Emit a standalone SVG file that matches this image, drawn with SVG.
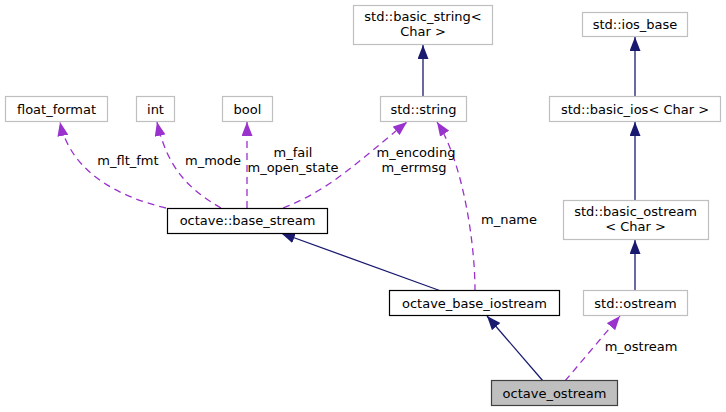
<svg xmlns="http://www.w3.org/2000/svg" width="726" height="412" viewBox="0 0 726 412">
<style>
text{font-family:"DejaVu Sans","Liberation Sans",sans-serif;font-size:13px;fill:#000;text-anchor:middle}
.ext{fill:#fff;stroke:#bfbfbf;stroke-width:1.2}
.doc{fill:#fff;stroke:#000;stroke-width:1.2}
.cur{fill:#bfbfbf;stroke:#404040;stroke-width:1.2}
.inh{fill:none;stroke:#191970;stroke-width:1.3;marker-end:url(#ab)}
.use{fill:none;stroke:#9a32cd;stroke-width:1.3;stroke-dasharray:7,5;marker-end:url(#ap)}
</style>
<defs>
<marker id="ab" viewBox="0 0 14 11" refX="14" refY="5.5" markerWidth="14" markerHeight="11" markerUnits="userSpaceOnUse" orient="auto"><path d="M0,0 L14,5.5 L0,11 z" fill="#191970"/></marker>
<marker id="ap" viewBox="0 0 14 11" refX="14" refY="5.5" markerWidth="14" markerHeight="11" markerUnits="userSpaceOnUse" orient="auto"><path d="M0,0 L14,5.5 L0,11 z" fill="#9a32cd"/></marker>
</defs>
<rect width="726" height="412" fill="#fff"/>
<g id="connectors">
<path class="inh" d="M423,97 L423,45"/>
<path class="inh" d="M635,97 L635,37"/>
<path class="inh" d="M635,200 L635,122"/>
<path class="inh" d="M635,291 L635,240"/>
<path class="inh" d="M441,291 L281,233"/>
<path class="inh" d="M543,381 L487,316"/>
<path class="use" d="M166,208 C115,196 70,170 60,122"/>
<path class="use" d="M221,208 C190,190 168,170 157,122"/>
<path class="use" d="M247,208 L247,122"/>
<path class="use" d="M283,208 C330,190 360,160 407,122"/>
<path class="use" d="M475,291 C475,240 462,160 437,122"/>
<path class="use" d="M565,381 L620,316"/>
<text x="128" y="165">m_flt_fmt</text>
<text x="213" y="165">m_mode</text>
<text x="293" y="157">m_fail</text>
<text x="293" y="172">m_open_state</text>
<text x="416" y="157">m_encoding</text>
<text x="414" y="172">m_errmsg</text>
<text x="509" y="224">m_name</text>
<text x="641" y="351">m_ostream</text>
</g>
<g id="float_format"><rect class="ext" x="5.5" y="96.5" width="102" height="25"/><text x="56.5" y="113.5">float_format</text></g>
<g id="int"><rect class="ext" x="136.5" y="96.5" width="38" height="25"/><text x="155.5" y="113.5">int</text></g>
<g id="bool"><rect class="ext" x="222.5" y="96.5" width="50" height="25"/><text x="247.5" y="113.5">bool</text></g>
<g id="std_string"><rect class="ext" x="380.5" y="96.5" width="86" height="25"/><text x="423.5" y="113.5">std::string</text></g>
<g id="std_basic_string"><rect class="ext" x="353.5" y="5.5" width="139" height="39"/><text x="423" y="21">std::basic_string&lt;</text><text x="423" y="36">Char &gt;</text></g>
<g id="std_ios_base"><rect class="ext" x="582.5" y="12.5" width="105" height="24"/><text x="635" y="29">std::ios_base</text></g>
<g id="std_basic_ios"><rect class="ext" x="549.5" y="96.5" width="171" height="25"/><text x="635" y="113.5">std::basic_ios&lt; Char &gt;</text></g>
<g id="std_basic_ostream"><rect class="ext" x="563.5" y="200.5" width="145" height="39"/><text x="635.5" y="216">std::basic_ostream</text><text x="635.5" y="231">&lt; Char &gt;</text></g>
<g id="std_ostream"><rect class="ext" x="583.5" y="290.5" width="104" height="25"/><text x="635.5" y="307.5">std::ostream</text></g>
<g id="octave_base_stream"><rect class="doc" x="167.5" y="208.5" width="160" height="25"/><text x="247.5" y="225">octave::base_stream</text></g>
<g id="octave_base_iostream"><rect class="doc" x="389.5" y="290.5" width="170" height="25"/><text x="474.5" y="307.5">octave_base_iostream</text></g>
<g id="octave_ostream"><rect class="cur" x="491.5" y="380.5" width="126" height="25"/><text x="554.5" y="397.5">octave_ostream</text></g>
</svg>
